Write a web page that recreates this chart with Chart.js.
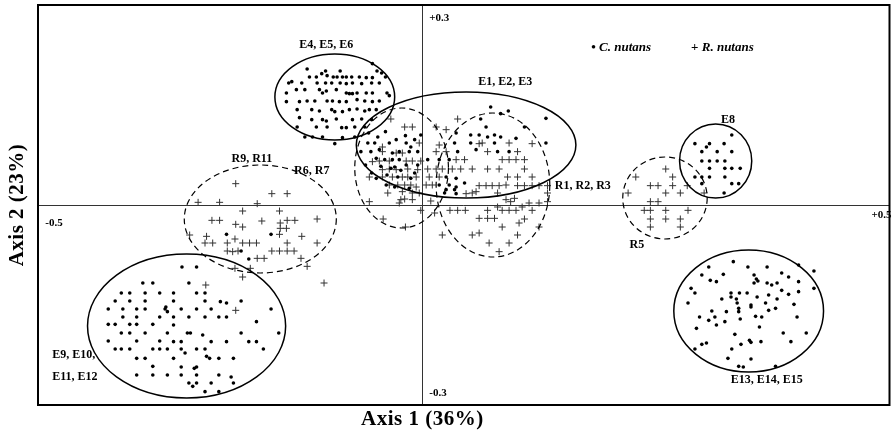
<!DOCTYPE html>
<html>
<head>
<meta charset="utf-8">
<script src="https://cdn.jsdelivr.net/npm/chart.js@4.4.1/dist/chart.umd.min.js"></script>
<style>
  body { margin: 0; background: #fff; }
  #chart { display: block; }
</style>
</head>
<body>
<canvas id="chart" width="894" height="434"></canvas>
<script>
// Axis 1 / Axis 2 scores
const cE4E6 = [[-0.065,0.212],[-0.150,0.204],[-0.126,0.201],[-0.107,0.201],[-0.059,0.201],[-0.053,0.198],[-0.147,0.192],[-0.138,0.192],[-0.131,0.197],[-0.124,0.194],[-0.116,0.192],[-0.111,0.192],[-0.104,0.192],[-0.099,0.192],[-0.092,0.192],[-0.082,0.192],[-0.073,0.191],[-0.065,0.191],[-0.048,0.192],
  [-0.170,0.185],[-0.174,0.183],[-0.157,0.183],[-0.137,0.183],[-0.126,0.183],[-0.118,0.183],[-0.107,0.183],[-0.099,0.182],[-0.091,0.183],[-0.079,0.182],[-0.066,0.183],[-0.056,0.183],
  [-0.177,0.168],[-0.164,0.173],[-0.153,0.173],[-0.134,0.173],[-0.130,0.168],[-0.125,0.171],[-0.112,0.173],[-0.099,0.168],[-0.095,0.167],[-0.091,0.167],[-0.085,0.168],[-0.073,0.168],[-0.065,0.168],[-0.046,0.168],[-0.043,0.164],
  [-0.177,0.155],[-0.160,0.155],[-0.150,0.156],[-0.140,0.156],[-0.124,0.156],[-0.117,0.156],[-0.108,0.155],[-0.099,0.155],[-0.085,0.158],[-0.075,0.156],[-0.065,0.155],[-0.056,0.156],
  [-0.163,0.143],[-0.144,0.143],[-0.134,0.141],[-0.118,0.143],[-0.114,0.140],[-0.104,0.140],[-0.095,0.143],[-0.085,0.144],[-0.075,0.141],[-0.069,0.143],[-0.060,0.143],
  [-0.160,0.131],[-0.144,0.128],[-0.130,0.128],[-0.125,0.126],[-0.112,0.129],[-0.091,0.128],[-0.079,0.129],[-0.066,0.128],
  [-0.163,0.117],[-0.138,0.117],[-0.124,0.117],[-0.105,0.116],[-0.099,0.116],[-0.088,0.117],[-0.075,0.117],
  [-0.153,0.102],[-0.143,0.102],[-0.130,0.102],[-0.104,0.101],[-0.088,0.102],[-0.114,0.092]];

const cE1E3 = [[-0.002,0.105],[0.044,0.108],[-0.071,0.093],[-0.062,0.093],[-0.043,0.093],[-0.034,0.098],[-0.021,0.093],[-0.015,0.087],[0.042,0.093],[-0.080,0.080],[-0.067,0.080],[-0.056,0.083],[-0.039,0.078],[-0.030,0.080],[-0.017,0.080],[-0.006,0.080],[0.046,0.080],
  [-0.060,0.070],[-0.049,0.068],[-0.039,0.068],[-0.030,0.068],[0.007,0.068],[0.022,0.068],[0.035,0.068],[-0.041,0.055],[-0.036,0.057],[-0.021,0.060],[-0.006,0.060],
  [-0.060,0.040],[-0.032,0.042],[-0.015,0.040],[0.031,0.042],[0.044,0.040],[-0.047,0.030],[-0.036,0.027],[-0.017,0.025],[0.022,0.030],[0.035,0.030],[0.044,0.027],[0.055,0.033],[0.031,0.023],[0.042,0.023],[0.029,0.018],[0.044,0.017],
  [-0.074,0.060],[-0.066,0.048],[-0.054,0.058],[-0.046,0.045],[-0.028,0.052],[-0.010,0.048],[-0.070,0.108],[-0.058,0.102],[-0.048,0.110],[-0.022,0.104],[-0.010,0.098],
  [0.089,0.147],[0.112,0.141],[0.102,0.137],[0.161,0.130],[0.076,0.129],[0.083,0.117],[0.063,0.105],[0.074,0.105],[0.085,0.102],[0.094,0.105],[0.102,0.102],[0.122,0.100],[0.133,0.117],[0.063,0.093],[0.070,0.083],[0.094,0.093],[0.098,0.080],[0.113,0.080],[0.161,0.093]];

const cR9 = [[-0.255,-0.044],[-0.197,-0.044],[-0.236,-0.069],[-0.226,-0.081]];

const cE9E12 = [[-0.313,-0.093],[-0.294,-0.093],[-0.304,-0.117],[-0.364,-0.117],[-0.351,-0.117],[-0.392,-0.132],[-0.381,-0.132],[-0.361,-0.132],[-0.342,-0.132],
  [-0.400,-0.144],[-0.381,-0.144],[-0.361,-0.144],[-0.409,-0.156],[-0.390,-0.156],[-0.372,-0.156],[-0.361,-0.156],[-0.334,-0.153],[-0.390,-0.168],[-0.372,-0.168],[-0.342,-0.168],
  [-0.409,-0.179],[-0.400,-0.179],[-0.381,-0.179],[-0.372,-0.179],[-0.351,-0.179],[-0.392,-0.192],[-0.381,-0.192],[-0.361,-0.192],[-0.332,-0.192],[-0.409,-0.204],[-0.372,-0.204],[-0.342,-0.204],
  [-0.400,-0.216],[-0.392,-0.216],[-0.381,-0.216],[-0.351,-0.216],[-0.342,-0.216],[-0.332,-0.216],[-0.372,-0.230],[-0.361,-0.230],[-0.351,-0.242],[-0.372,-0.255],[-0.351,-0.255],[-0.332,-0.255],
  [-0.324,-0.132],[-0.294,-0.132],[-0.283,-0.132],[-0.324,-0.144],[-0.283,-0.144],[-0.263,-0.145],[-0.255,-0.147],[-0.236,-0.144],[-0.335,-0.156],[-0.332,-0.160],[-0.314,-0.156],[-0.294,-0.156],[-0.275,-0.156],[-0.197,-0.156],
  [-0.324,-0.168],[-0.304,-0.168],[-0.283,-0.168],[-0.265,-0.168],[-0.255,-0.168],[-0.324,-0.180],[-0.216,-0.175],[-0.306,-0.192],[-0.302,-0.192],[-0.286,-0.195],[-0.236,-0.192],[-0.187,-0.192],
  [-0.324,-0.205],[-0.314,-0.205],[-0.275,-0.205],[-0.255,-0.205],[-0.226,-0.205],[-0.216,-0.205],[-0.314,-0.216],[-0.294,-0.216],[-0.283,-0.216],[-0.207,-0.216],
  [-0.324,-0.230],[-0.309,-0.222],[-0.281,-0.227],[-0.277,-0.230],[-0.265,-0.230],[-0.246,-0.230],[-0.314,-0.243],[-0.297,-0.245],[-0.294,-0.243],
  [-0.314,-0.255],[-0.294,-0.255],[-0.265,-0.255],[-0.249,-0.258],[-0.304,-0.267],[-0.299,-0.272],[-0.294,-0.267],[-0.275,-0.267],[-0.246,-0.267],[-0.283,-0.280],[-0.265,-0.280]];

const cE8 = [[0.403,0.105],[0.355,0.092],[0.374,0.092],[0.393,0.092],[0.370,0.087],[0.364,0.080],[0.384,0.080],[0.403,0.080],[0.364,0.066],[0.374,0.066],[0.384,0.066],[0.394,0.066],
  [0.374,0.055],[0.394,0.055],[0.403,0.055],[0.414,0.055],[0.355,0.042],[0.364,0.042],[0.374,0.042],[0.394,0.042],[0.364,0.032],[0.403,0.032],[0.412,0.032],[0.393,0.018]];

const cE13E15 = [[0.405,-0.085],[0.373,-0.093],[0.424,-0.093],[0.449,-0.093],[0.490,-0.090],[0.510,-0.099],[0.364,-0.105],[0.392,-0.104],[0.432,-0.105],[0.468,-0.102],[0.477,-0.108],
  [0.375,-0.113],[0.383,-0.115],[0.435,-0.111],[0.437,-0.114],[0.490,-0.115],[0.432,-0.117],[0.449,-0.117],[0.455,-0.120],[0.462,-0.117],[0.350,-0.125],[0.355,-0.132],[0.468,-0.128],[0.477,-0.134],[0.490,-0.130],[0.510,-0.125],
  [0.402,-0.132],[0.413,-0.132],[0.423,-0.132],[0.402,-0.138],[0.436,-0.138],[0.451,-0.135],[0.390,-0.141],[0.409,-0.141],[0.462,-0.141],[0.346,-0.147],[0.410,-0.147],[0.428,-0.150],[0.447,-0.147],[0.484,-0.149],
  [0.412,-0.155],[0.428,-0.153],[0.460,-0.155],[0.377,-0.159],[0.396,-0.160],[0.412,-0.160],[0.451,-0.158],[0.361,-0.168],[0.381,-0.168],[0.434,-0.167],[0.442,-0.168],[0.373,-0.173],[0.394,-0.175],[0.414,-0.171],[0.383,-0.180],[0.488,-0.168],
  [0.357,-0.185],[0.439,-0.183],[0.407,-0.194],[0.470,-0.192],[0.500,-0.192],[0.426,-0.203],[0.428,-0.206],[0.415,-0.209],[0.441,-0.205],[0.480,-0.205],[0.364,-0.209],[0.370,-0.207],[0.355,-0.216],[0.403,-0.216],
  [0.398,-0.230],[0.428,-0.231],[0.412,-0.242],[0.418,-0.243],[0.460,-0.242]];

const rR6R7 = [[-0.041,0.129],[-0.023,0.117],[-0.013,0.117],[0.018,0.117],[-0.004,0.093],[-0.052,0.087],[-0.052,0.080],[-0.034,0.078],[-0.026,0.078],[-0.065,0.065],[-0.056,0.066],[-0.043,0.066],[-0.021,0.066],[-0.013,0.066],[-0.002,0.066],
  [-0.052,0.053],[-0.043,0.054],[-0.034,0.053],[-0.019,0.054],[-0.006,0.053],[0.007,0.054],[0.018,0.054],[-0.069,0.042],[-0.052,0.042],[-0.039,0.042],[-0.026,0.042],[-0.019,0.042],[-0.008,0.042],[0.009,0.042],
  [-0.043,0.030],[-0.032,0.030],[-0.023,0.030],[-0.015,0.030],[-0.008,0.027],[0.005,0.030],[0.013,0.030],[-0.045,0.018],[-0.026,0.020],[-0.013,0.018],[-0.004,0.018],[-0.069,0.005],[-0.028,0.008],[-0.023,0.009],[-0.013,0.008],[-0.030,0.003],[0.011,0.006],
  [-0.002,-0.008],[0.016,-0.012],[-0.051,-0.021],[-0.022,-0.033]];

const rR1R3 = [[0.046,0.129],[0.031,0.113],[0.022,0.090],[0.018,0.080],[0.031,0.080],[0.044,0.068],[0.055,0.068],[0.026,0.054],[0.039,0.054],[0.050,0.054],[0.022,0.042],
  [0.074,0.092],[0.078,0.093],[0.113,0.093],[0.143,0.092],[0.085,0.080],[0.124,0.080],[0.104,0.068],[0.113,0.068],[0.122,0.068],[0.133,0.068],[0.065,0.054],[0.085,0.054],[0.100,0.054],[0.133,0.054],[0.111,0.042],[0.124,0.042],[0.143,0.042],
  [0.074,0.029],[0.083,0.029],[0.091,0.029],[0.100,0.029],[0.109,0.030],[0.124,0.029],[0.133,0.029],[0.143,0.029],[0.152,0.029],[0.163,0.029],[0.070,0.020],[0.098,0.018],[0.163,0.018],
  [0.109,0.008],[0.120,0.010],[0.115,0.005],[0.139,0.003],[0.152,0.003],[0.163,0.005],[0.098,-0.003],[0.130,-0.003],
  [0.036,-0.008],[0.046,-0.008],[0.056,-0.008],[0.085,-0.008],[0.104,-0.008],[0.113,-0.008],[0.122,-0.008],[0.143,-0.008],[0.074,-0.020],[0.085,-0.020],[0.094,-0.020],[0.126,-0.027],[0.133,-0.021],
  [0.104,-0.033],[0.152,-0.033],[0.026,-0.045],[0.065,-0.045],[0.074,-0.042],[0.124,-0.045],[0.087,-0.057],[0.113,-0.057],[0.100,-0.070],[0.057,0.017],[0.065,0.018]];

const rR9R11 = [[-0.243,0.032],[-0.196,0.017],[-0.176,0.017],[-0.292,0.004],[-0.264,0.004],[-0.215,0.002],[-0.234,-0.009],[-0.186,-0.009],[-0.274,-0.023],[-0.264,-0.023],[-0.243,-0.029],[-0.234,-0.033],
  [-0.209,-0.024],[-0.185,-0.027],[-0.176,-0.023],[-0.166,-0.023],[-0.185,-0.035],[-0.177,-0.035],[-0.137,-0.021],[-0.303,-0.045],[-0.281,-0.047],[-0.244,-0.051],[-0.186,-0.044],[-0.157,-0.047],
  [-0.283,-0.057],[-0.273,-0.057],[-0.254,-0.057],[-0.234,-0.057],[-0.225,-0.057],[-0.216,-0.057],[-0.176,-0.057],[-0.137,-0.057],[-0.254,-0.069],[-0.247,-0.070],[-0.240,-0.069],
  [-0.196,-0.069],[-0.186,-0.069],[-0.176,-0.069],[-0.167,-0.069],[-0.215,-0.080],[-0.206,-0.080],[-0.158,-0.080],[-0.150,-0.092],[-0.244,-0.095],[-0.224,-0.095],[-0.234,-0.108],
  [-0.282,-0.120],[-0.128,-0.117],[-0.243,-0.158]];

const rR5 = [[0.317,0.054],[0.278,0.042],[0.326,0.042],[0.297,0.029],[0.307,0.029],[0.326,0.029],[0.345,0.029],[0.268,0.018],[0.317,0.018],[0.336,0.018],[0.367,0.018],
  [0.297,0.005],[0.307,0.005],[0.289,-0.008],[0.297,-0.008],[0.317,-0.008],[0.346,-0.008],[0.297,-0.021],[0.317,-0.021],[0.336,-0.021],[0.297,-0.033],[0.336,-0.033]];

// groups drawn as rings: [centre x, centre y, half width, half height, dashed]
const clusterRings = [
  [-0.114, 0.162, 0.078, 0.0645, false],  // E4, E5, E6
  [0.057, 0.090, 0.143, 0.0795, false],   // E1, E2, E3
  [-0.027, 0.0555, 0.061, 0.090, true],   // R6, R7
  [0.092, 0.030, 0.074, 0.108, true],     // R1, R2, R3
  [-0.211, -0.021, 0.099, 0.081, true],   // R9, R11
  [-0.307, -0.1815, 0.129, 0.108, false], // E9 - E12
  [0.382, 0.066, 0.047, 0.0555, false],   // E8
  [0.316, 0.0105, 0.055, 0.0615, true],   // R5
  [0.425, -0.159, 0.0975, 0.0915, false]  // E13 - E15
];

const clusterLabels = [
  ['E4, E5, E6', -0.125, 0.240, 'center'],
  ['E1, E2, E3', 0.108, 0.1845, 'center'],
  ['R9, R11', -0.222, 0.069, 'center'],
  ['R6, R7', -0.144, 0.051, 'center'],
  ['R1, R2, R3', 0.209, 0.0285, 'center'],
  ['E8', 0.398, 0.1275, 'center'],
  ['R5', 0.2795, -0.060, 'center'],
  ['E9, E10,', -0.482, -0.225, 'left'],
  ['E11, E12', -0.482, -0.258, 'left'],
  ['E13, E14, E15', 0.4485, -0.2625, 'center']
];

const axisEndLabels = [
  ['+0.3', 0.009, 0.2805],
  ['-0.3', 0.009, -0.282],
  ['-0.5', -0.491, -0.027],
  ['+0.5', 0.585, -0.015]
];

const toPts = arr => arr.map(p => ({ x: p[0], y: p[1] }));
const dots = [].concat(cE4E6, cE1E3, cR9, cE9E12, cE8, cE13E15);
const crosses = [].concat(rR6R7, rR1R3, rR9R11, rR5);

const serif = "'Liberation Serif', 'DejaVu Serif', serif";

const overlay = {
  id: 'overlay',
  beforeDraw(chart) {
    const ctx = chart.ctx;
    ctx.save();
    ctx.fillStyle = '#fff';
    ctx.fillRect(0, 0, chart.width, chart.height);
    ctx.restore();
  },
  beforeDatasetsDraw(chart) {
    const { ctx, chartArea: a, scales: { x, y } } = chart;
    const x0 = Math.round(x.getPixelForValue(0)) + 0.5;
    const y0 = Math.round(y.getPixelForValue(0)) + 0.5;
    ctx.save();
    ctx.strokeStyle = '#333';
    ctx.lineWidth = 1;
    ctx.beginPath();
    ctx.moveTo(x0, a.top); ctx.lineTo(x0, a.bottom);
    ctx.moveTo(a.left, y0); ctx.lineTo(a.right, y0);
    ctx.stroke();
    ctx.restore();
  },
  afterDatasetsDraw(chart) {
    const { ctx, chartArea: a, scales: { x, y } } = chart;
    ctx.save();
    // rings round the groups
    ctx.strokeStyle = '#000';
    clusterRings.forEach(r => {
      const cx = x.getPixelForValue(r[0]), cy = y.getPixelForValue(r[1]);
      const rx = Math.abs(x.getPixelForValue(r[0] + r[2]) - cx);
      const ry = Math.abs(y.getPixelForValue(r[1] + r[3]) - cy);
      ctx.lineWidth = r[4] ? 1.2 : 1.5;
      ctx.setLineDash(r[4] ? [6, 4] : []);
      ctx.beginPath();
      ctx.ellipse(cx, cy, rx, ry, 0, 0, Math.PI * 2);
      ctx.stroke();
    });
    ctx.setLineDash([]);

    // group names
    ctx.fillStyle = '#000';
    ctx.textBaseline = 'middle';
    ctx.font = 'bold 12px ' + serif;
    clusterLabels.forEach(l => {
      ctx.textAlign = l[3];
      ctx.fillText(l[0], x.getPixelForValue(l[1]), y.getPixelForValue(l[2]));
    });
    ctx.font = 'bold 11px ' + serif;
    ctx.textAlign = 'left';
    axisEndLabels.forEach(l => ctx.fillText(l[0], x.getPixelForValue(l[1]), y.getPixelForValue(l[2])));

    // legend
    let lx = x.getPixelForValue(0.220), ly = y.getPixelForValue(0.2355);
    ctx.font = 'bold 13px ' + serif;
    ctx.fillText('\u2022 ', lx, ly);
    lx += ctx.measureText('\u2022 ').width;
    ctx.font = 'italic bold 13px ' + serif;
    ctx.fillText('C. nutans', lx, ly);
    lx = x.getPixelForValue(0.350);
    ctx.font = 'bold 13px ' + serif;
    ctx.fillText('+ ', lx, ly);
    lx += ctx.measureText('+ ').width;
    ctx.font = 'italic bold 13px ' + serif;
    ctx.fillText('R. nutans', lx, ly);

    // frame
    ctx.lineWidth = 2;
    ctx.strokeRect(a.left, a.top, a.right - a.left, a.bottom - a.top);

    // axis titles
    ctx.font = 'bold 21px ' + serif;
    ctx.letterSpacing = '0.5px';
    ctx.textAlign = 'center';
    ctx.fillText('Axis 1 (36%)', x.getPixelForValue(0), a.bottom + 15);
    ctx.translate(18, (a.top + a.bottom) / 2);
    ctx.rotate(-Math.PI / 2);
    ctx.fillText('Axis 2 (23%)', 0, 0);
    ctx.restore();
  }
};

new Chart(document.getElementById('chart'), {
  type: 'scatter',
  data: {
    datasets: [{
      label: 'C. nutans',
      data: toPts(dots),
      pointStyle: 'circle',
      pointRadius: 1.8,
      backgroundColor: '#000',
      borderWidth: 0
    }, {
      label: 'R. nutans',
      data: toPts(crosses),
      pointStyle: 'cross',
      pointRadius: 3.5,
      borderColor: '#333',
      borderWidth: 1
    }]
  },
  options: {
    responsive: false,
    animation: false,
    devicePixelRatio: 1,
    layout: { padding: { left: 38, right: 3, top: 5, bottom: 29 } },
    plugins: { legend: { display: false }, tooltip: { enabled: false } },
    elements: { point: { hoverRadius: 0 } },
    scales: {
      x: { type: 'linear', min: -0.5005, max: 0.6084, display: false },
      y: { type: 'linear', min: -0.3, max: 0.3, display: false }
    }
  },
  plugins: [overlay]
});
</script>
</body>
</html>
